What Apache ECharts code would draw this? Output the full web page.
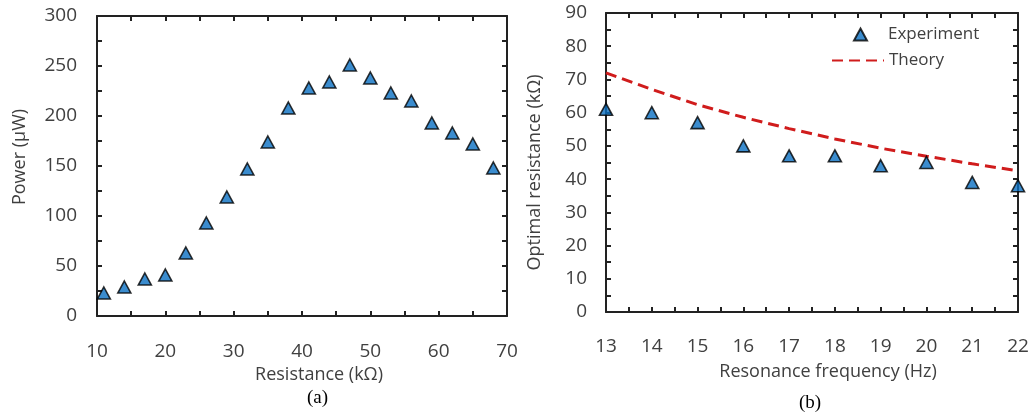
<!DOCTYPE html>
<html>
<head>
<meta charset="utf-8">
<script src="https://cdn.jsdelivr.net/npm/echarts@6/dist/echarts.min.js"></script>
<style>
  html, body { margin: 0; padding: 0; background: #fff; }
  #main { width: 1034px; height: 419px; }
</style>
</head>
<body>
<div id="main"></div>
<script>
// (a) power vs load resistance
var resistance = [11, 14, 17, 20, 23, 26, 29, 32, 35, 38, 41, 44, 47, 50, 53, 56, 59, 62, 65, 68];
var power = [23, 29, 37, 41, 63, 93, 119, 147, 174, 208, 228, 234, 251, 238, 223, 215, 193, 183, 172, 148];

// (b) optimal resistance vs resonance frequency
var frequency = [13, 14, 15, 16, 17, 18, 19, 20, 21, 22];
var optimalExperiment = [61, 60, 57, 50, 47, 47, 44, 45, 39, 38];
var optimalTheory = [72, 67, 62.4, 58.6, 55.2, 52.1, 49.3, 46.9, 44.6, 42.5];

var chartDom = document.getElementById('main');
var myChart = echarts.init(chartDom);
var option;

var fontFamily = '"Open Sans", sans-serif';
var axisColor = '#222';
var textColor = '#404040';
var markerBlue = '#0a6fc2';
var theoryRed = '#d01c1c';

function pairs(xs, ys) {
    return xs.map(function (x, i) { return [x, ys[i]]; });
}

// one side of the boxed frame; only the labelled sides get labels and names
function frameAxis(opts) {
    var axis = {
        type: 'value',
        gridIndex: opts.grid,
        position: opts.position,
        min: opts.min,
        max: opts.max,
        interval: opts.interval,
        axisLine: { show: true, onZero: false, lineStyle: { color: axisColor, width: 2 } },
        axisTick: { show: true, inside: true, length: 5, lineStyle: { color: axisColor, width: 2 } },
        minorTick: { show: true, splitNumber: 2, length: 5, lineStyle: { color: axisColor, width: 2 } },
        splitLine: { show: false },
        axisLabel: { show: false }
    };
    if (opts.labelled) {
        axis.axisLabel = {
            show: true,
            margin: opts.margin,
            color: textColor,
            fontFamily: fontFamily,
            fontSize: 19
        };
        axis.name = opts.name;
        axis.nameLocation = 'middle';
        axis.nameGap = opts.nameGap;
        axis.nameTextStyle = {
            color: textColor,
            fontFamily: fontFamily,
            fontSize: 18,
            padding: opts.namePadding
        };
    }
    return axis;
}

option = {
    backgroundColor: '#fff',
    animation: false,
    grid: [
        { left: 97, top: 16, width: 410, height: 300 },
        { left: 606, top: 13, width: 412, height: 299 }
    ],
    xAxis: [
        frameAxis({ grid: 0, position: 'bottom', min: 10, max: 70, interval: 10, labelled: true,
            margin: 26, name: 'Resistance (kΩ)', nameGap: 49, namePadding: [0, 0, 0, 34] }),
        frameAxis({ grid: 0, position: 'top', min: 10, max: 70, interval: 10 }),
        frameAxis({ grid: 1, position: 'bottom', min: 13, max: 22, interval: 1, labelled: true,
            margin: 25, name: 'Resonance frequency (Hz)', nameGap: 51, namePadding: [0, 0, 0, 32] }),
        frameAxis({ grid: 1, position: 'top', min: 13, max: 22, interval: 1 })
    ],
    yAxis: [
        frameAxis({ grid: 0, position: 'left', min: 0, max: 300, interval: 50, labelled: true,
            margin: 20, name: 'Power (µW)', nameGap: 68, namePadding: [0, 0, 0, 18] }),
        frameAxis({ grid: 0, position: 'right', min: 0, max: 300, interval: 50 }),
        frameAxis({ grid: 1, position: 'left', min: 0, max: 90, interval: 10, labelled: true,
            margin: 19, name: 'Optimal resistance (kΩ)', nameGap: 62, namePadding: [0, 20, 0, 0] }),
        frameAxis({ grid: 1, position: 'right', min: 0, max: 90, interval: 10 })
    ],
    legend: [
        {
            left: 848,
            top: 21,
            itemWidth: 13,
            itemHeight: 12,
            data: ['Experiment'],
            textStyle: { color: textColor, fontFamily: fontFamily, fontSize: 17, padding: [0, 0, 0, 16] }
        },
        {
            left: 826,
            top: 47,
            itemWidth: 52,
            itemHeight: 13,
            data: [{ name: 'Theory', itemStyle: { opacity: 0 } }],
            textStyle: { color: textColor, fontFamily: fontFamily, fontSize: 17 }
        }
    ],
    series: [
        {
            name: 'Power',
            type: 'scatter',
            xAxisIndex: 0,
            yAxisIndex: 0,
            symbol: 'triangle',
            symbolSize: [13, 12],
            clip: false,
            itemStyle: { color: markerBlue, borderColor: '#000', borderWidth: 1.6 },
            data: pairs(resistance, power)
        },
        {
            name: 'Theory',
            type: 'line',
            xAxisIndex: 2,
            yAxisIndex: 2,
            symbol: 'none',
            lineStyle: { color: theoryRed, width: 3, type: [11, 6] },
            itemStyle: { color: theoryRed },
            data: pairs(frequency, optimalTheory)
        },
        {
            name: 'Experiment',
            type: 'scatter',
            xAxisIndex: 2,
            yAxisIndex: 2,
            symbol: 'triangle',
            symbolSize: [13, 12],
            clip: false,
            z: 3,
            itemStyle: { color: markerBlue, borderColor: '#000', borderWidth: 1.6 },
            data: pairs(frequency, optimalExperiment)
        }
    ],
    graphic: [
        { type: 'text', left: 307, top: 389, style: { text: '(a)', fill: '#000', font: '19px "Liberation Serif", serif' } },
        { type: 'text', left: 799, top: 394, style: { text: '(b)', fill: '#000', font: '19px "Liberation Serif", serif' } }
    ]
};

option && myChart.setOption(option);
</script>
</body>
</html>
